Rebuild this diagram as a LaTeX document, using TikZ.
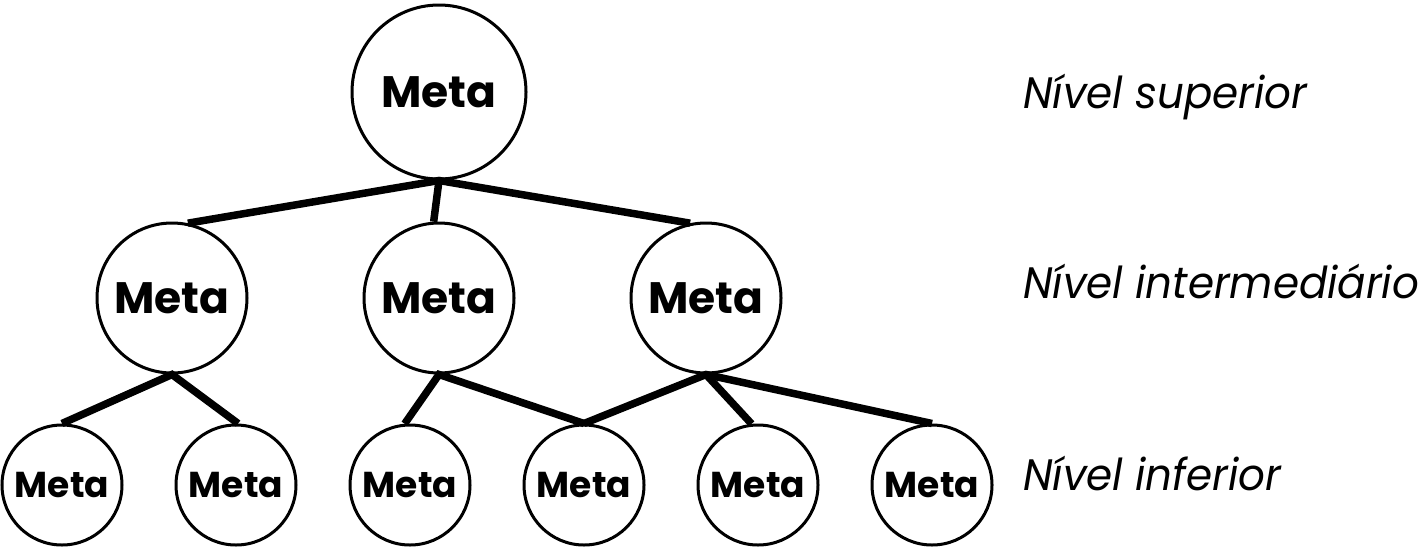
\documentclass[tikz,border=0pt]{standalone}
\usepackage{fontspec}
\setmainfont{Poppins}
\newfontfamily\metafont{Poppins}[UprightFont=* Bold]
\newfontfamily\levelfont{Poppins}[UprightFont=* Italic,FakeStretch=0.955]
\begin{document}
\begin{tikzpicture}[x=1pt,y=-1pt,
  goal/.style={circle,draw,line width=3pt,inner sep=0pt,font=\metafont},
  bigg/.style={goal,minimum size=174pt,font=\metafont\fontsize{44}{48}\selectfont},
  midg/.style={goal,minimum size=150pt,font=\metafont\fontsize{44}{48}\selectfont},
  smallg/.style={goal,minimum size=120pt,font=\metafont\fontsize{36}{40}\selectfont},
  link/.style={line width=7.5pt},
  level/.style={anchor=base west,inner sep=0pt,font=\levelfont\fontsize{44}{48}\selectfont}]
\useasboundingbox (0,0) rectangle (1424,547);
\node[bigg] (t) at (439,92) {Meta};
\node[midg] (m1) at (172,298) {Meta};
\node[midg] (m2) at (439,298) {Meta};
\node[midg] (m3) at (706,298) {Meta};
\node[smallg] (b1) at (62,485) {Meta};
\node[smallg] (b2) at (236,485) {Meta};
\node[smallg] (b3) at (410,485) {Meta};
\node[smallg] (b4) at (584,485) {Meta};
\node[smallg] (b5) at (758,485) {Meta};
\node[smallg] (b6) at (932,485) {Meta};
\draw[link] (m1.78) -- (t.south) -- (m3.102);
\draw[link] (t.south) -- (m2.94);
\draw[link] (b1.north) -- (m1.south) -- (b2.88);
\draw[link] (b3.95) -- (m2.south) -- (b4.north);
\draw[link] (b4.north) -- (m3.south) -- (b6.north);
\draw[link] (m3.south) -- (b5.96);
\node[level] (l1) at (1023,108) {Nível superior};
\node[level] (l2) at (1023,298) {Nível intermediário};
\node[level] (l3) at (1023,490) {Nível inferior};
\end{tikzpicture}
\end{document}
